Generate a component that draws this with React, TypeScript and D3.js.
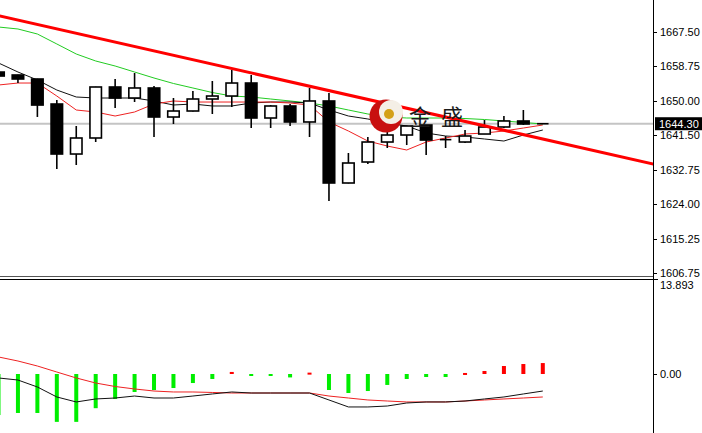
import React from "react";
import * as d3 from "d3";

const W = 702;
const H = 433;

// OHLC candle data (gold, price)
const openP = [1657.3, 1656.56, 1655.55, 1649.26, 1636.68, 1640.71, 1653.54, 1650.77, 1653.29, 1645.99, 1647.5, 1650.52, 1651.27, 1654.54, 1645.74, 1648.76, 1644.74, 1650.02, 1629.39, 1634.67, 1639.7, 1641.46, 1643.98, 1640.2, 1639.7, 1641.71, 1643.48, 1644.99, 1644.25];
const highP = [1657.6, 1656.6, 1655.6, 1650.27, 1643.73, 1653.6, 1655.55, 1657.06, 1653.79, 1650.77, 1652.53, 1655.05, 1657.81, 1656.56, 1649.0, 1649.26, 1653.29, 1652.03, 1636.93, 1640.96, 1642.47, 1643.8, 1644.0, 1641.21, 1642.72, 1645.24, 1646.24, 1647.75, 1644.4];
const lowP = [1656.0, 1654.54, 1646.0, 1632.91, 1633.92, 1639.7, 1648.25, 1649.76, 1640.96, 1644.23, 1647.4, 1646.75, 1648.51, 1643.22, 1643.22, 1643.73, 1640.96, 1624.86, 1629.3, 1634.17, 1638.19, 1638.94, 1636.43, 1638.19, 1639.45, 1641.7, 1643.22, 1643.98, 1644.2];
const closeP = [1656.3, 1655.55, 1649.0, 1636.68, 1640.71, 1653.54, 1650.77, 1653.29, 1645.99, 1647.5, 1650.52, 1651.27, 1654.54, 1645.74, 1648.76, 1644.74, 1650.02, 1629.39, 1634.42, 1639.7, 1641.46, 1643.73, 1640.2, 1640.3, 1641.21, 1643.48, 1644.99, 1644.23, 1644.3];

// moving averages
const maGreen = [1668.63, 1668.13, 1666.87, 1664.36, 1661.84, 1660.08, 1658.82, 1657.31, 1655.8, 1654.42, 1653.29, 1652.15, 1651.27, 1651.02, 1650.52, 1650.02, 1649.51, 1648.76, 1647.75, 1646.75, 1645.99, 1645.74, 1645.74, 1645.74, 1645.61, 1645.36, 1644.99, 1644.61, 1644.23];
const maBlack = [1659.58, 1657.31, 1655.3, 1652.78, 1651.02, 1650.77, 1650.77, 1650.77, 1650.02, 1649.01, 1649.26, 1648.76, 1648.76, 1649.51, 1649.76, 1649.76, 1649.51, 1647.75, 1646.24, 1645.49, 1644.48, 1643.73, 1641.97, 1641.21, 1640.96, 1640.46, 1639.95, 1641.46, 1642.72];
const maRed = [1654.04, 1654.54, 1654.54, 1651.27, 1647.75, 1647.25, 1646.24, 1647.25, 1649.26, 1650.02, 1649.76, 1649.76, 1649.76, 1649.76, 1649.76, 1649.51, 1649.01, 1644.74, 1642.47, 1639.95, 1638.69, 1637.69, 1639.7, 1640.71, 1641.71, 1641.97, 1642.47, 1643.22, 1643.98];

// trend line anchors (bar index, price)
const trendIdx = [0, 34];
const trendPrice = [1671.47, 1633.8];

const lastPrice = 1644.3;
const priceTicks = [1667.5, 1658.75, 1650.0, 1641.5, 1632.75, 1624.0, 1615.25, 1606.75];

// MACD indicator
const histo = [-6.0, -5.7, -5.7, -7.0, -7.0, -5.0, -3.65, -2.63, -2.34, -2.05, -1.32, -0.73, 0.3, -0.2, -0.2, -0.5, 0.2, -2.34, -2.78, -2.49, -1.6, -0.73, -0.44, -0.44, 0.15, 0.44, 1.17, 1.46, 1.6];
const macdLine = [-0.58, -0.88, -1.9, -3.36, -4.09, -3.65, -3.51, -3.22, -3.51, -3.51, -3.22, -2.92, -2.63, -2.78, -2.78, -2.78, -2.78, -3.8, -4.82, -4.82, -4.68, -4.24, -4.09, -4.09, -3.95, -3.65, -3.36, -2.92, -2.49];
const signalLine = [2.49, 1.9, 1.17, 0.29, -0.58, -1.32, -1.83, -2.19, -2.49, -2.63, -2.63, -2.7, -2.78, -2.78, -2.78, -2.78, -2.78, -3.22, -3.51, -3.8, -3.95, -4.09, -4.09, -4.09, -3.95, -3.8, -3.65, -3.51, -3.36];
const indMax = 13.893;

const AXIS_X = 653;
const FONT = "Tahoma, 'Liberation Sans', Arial, sans-serif";

export default function App() {
  const n = openP.length;
  const x = d3.scaleLinear().domain([0, n - 1]).range([-1.5, 542.8]);
  const y = d3.scaleLinear().domain([1606.75, 1667.5]).range([273, 31.5]);
  const yi = d3.scaleLinear().domain([0, indMax]).range([374, 279]);

  const idx = d3.range(n);
  const lineMain = (arr: number[]) =>
    d3.line<number>().x((i) => x(i)).y((i) => y(arr[i]))(idx) || "";
  const lineInd = (arr: number[]) =>
    d3.line<number>().x((i) => x(i)).y((i) => yi(arr[i]))(idx) || "";

  const bodyW = 11.5;

  return (
    <svg
      width={W}
      height={H}
      style={{ position: "absolute", left: 0, top: 0, background: "#fff" }}
    >
      <defs>
        <clipPath id="mainClip">
          <rect x={0} y={0} width={AXIS_X} height={276} />
        </clipPath>
        <clipPath id="indClip">
          <rect x={0} y={280} width={AXIS_X} height={H - 280} />
        </clipPath>
      </defs>
      <rect x={0} y={0} width={W} height={H} fill="#fff" />

      {/* main panel */}
      <g clipPath="url(#mainClip)">
        <line x1={0} x2={AXIS_X} y1={y(lastPrice)} y2={y(lastPrice)} stroke="#c4c4c4" strokeWidth={2} />
        <path d={lineMain(maGreen)} fill="none" stroke="#22cc22" strokeWidth={1} />
        <path d={lineMain(maBlack)} fill="none" stroke="#111" strokeWidth={1} />
        <path d={lineMain(maRed)} fill="none" stroke="#ee2222" strokeWidth={1} />
        {idx.map((i) => {
          const o = openP[i], c = closeP[i];
          const bull = c >= o;
          const top = y(Math.max(o, c));
          const bot = y(Math.min(o, c));
          const cx = x(i);
          const h = Math.max(bot - top, 0.01);
          return (
            <g key={i}>
              <line x1={cx} x2={cx} y1={y(highP[i])} y2={y(lowP[i])} stroke="#000" strokeWidth={1.6} />
              {h < 1.5 ? (
                <line x1={cx - bodyW / 2} x2={cx + bodyW / 2} y1={top} y2={top} stroke="#000" strokeWidth={1.6} />
              ) : (
                <rect
                  x={cx - bodyW / 2}
                  y={top}
                  width={bodyW}
                  height={h}
                  fill={bull ? "#fff" : "#000"}
                  stroke="#000"
                  strokeWidth={1.6}
                />
              )}
            </g>
          );
        })}
        <line
          x1={x(trendIdx[0])}
          y1={y(trendPrice[0])}
          x2={x(trendIdx[1])}
          y2={y(trendPrice[1])}
          stroke="#ff0000"
          strokeWidth={3}
        />
        {/* watermark logo */}
        <circle cx={386} cy={116} r={16.5} fill="#c81010" />
        <circle cx={391} cy={112} r={12} fill="#f4efe6" />
        <circle cx={389} cy={114} r={5} fill="#d4a017" />
        <text x={409} y={125} fontFamily="'Noto Sans CJK SC'" fontSize={22} fill="#1a1a1a">金</text>
        <text x={441} y={125} fontFamily="'Noto Sans CJK SC'" fontSize={22} fill="#1a1a1a">盛</text>
      </g>

      {/* panel separators */}
      <line x1={0} x2={AXIS_X} y1={276.5} y2={276.5} stroke="#555" strokeWidth={1} />
      <line x1={0} x2={AXIS_X + 5} y1={279.5} y2={279.5} stroke="#000" strokeWidth={1} />

      {/* indicator panel */}
      <g clipPath="url(#indClip)">
        {idx.map((i) => {
          const v = histo[i];
          const y0 = yi(0);
          const y1 = yi(v);
          return (
            <rect
              key={i}
              x={x(i) - 2}
              y={Math.min(y0, y1)}
              width={4}
              height={Math.max(Math.abs(y1 - y0), 2)}
              fill={v >= 0 ? "#ff0000" : "#00ee00"}
            />
          );
        })}
        <path d={lineInd(signalLine)} fill="none" stroke="#ee2222" strokeWidth={1} />
        <path d={lineInd(macdLine)} fill="none" stroke="#111" strokeWidth={1} />
      </g>

      {/* right axis */}
      <line x1={AXIS_X + 0.5} x2={AXIS_X + 0.5} y1={0} y2={H} stroke="#000" strokeWidth={1} />
      {priceTicks.map((t) => (
        <g key={t}>
          <line x1={AXIS_X} x2={AXIS_X + 4} y1={Math.round(y(t)) + 0.5} y2={Math.round(y(t)) + 0.5} stroke="#000" />
          <text x={660} y={y(t) + 4} fontFamily={FONT} fontSize={11} fill="#000">
            {t.toFixed(2)}
          </text>
        </g>
      ))}
      <rect x={655} y={y(lastPrice) - 6.5} width={47} height={13} fill="#000" />
      <text x={659} y={y(lastPrice) + 4} fontFamily={FONT} fontSize={11} fill="#fff">
        {lastPrice.toFixed(2)}
      </text>

      <text x={660} y={289} fontFamily={FONT} fontSize={11} fill="#000">{indMax.toFixed(3)}</text>
      <line x1={AXIS_X} x2={AXIS_X + 4} y1={Math.round(yi(0)) + 0.5} y2={Math.round(yi(0)) + 0.5} stroke="#000" />
      <text x={660} y={yi(0) + 4} fontFamily={FONT} fontSize={11} fill="#000">0.00</text>
    </svg>
  );
}
